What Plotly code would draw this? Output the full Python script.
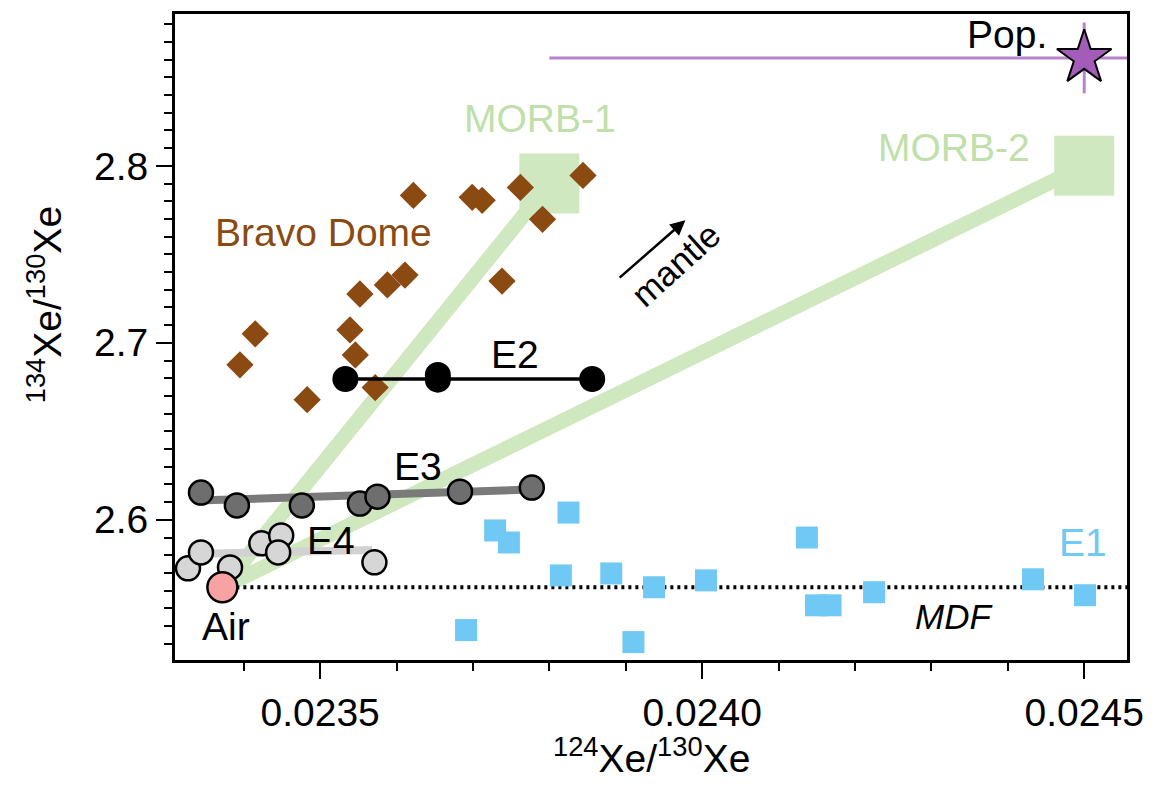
import plotly.graph_objects as go

# ---------------- data ----------------
bravo_x = [0.023622, 0.023699, 0.023712, 0.023762, 0.023844, 0.023791, 0.023415, 0.023395,
           0.023483, 0.023552, 0.023588, 0.023611, 0.023539, 0.023546, 0.023572, 0.023738]
bravo_y = [2.7833, 2.7822, 2.7805, 2.7878, 2.7946, 2.7698, 2.7051, 2.6876,
           2.6679, 2.7276, 2.7327, 2.7383, 2.7073, 2.6932, 2.6747, 2.7349]

e1_x = [0.023691, 0.023729, 0.023747, 0.023825, 0.023815, 0.023881, 0.023910, 0.023937,
        0.024005, 0.024137, 0.024149, 0.024168, 0.024225, 0.024433, 0.024501]
e1_y = [2.5377, 2.5940, 2.5872, 2.6041, 2.5686, 2.5697, 2.5309, 2.5619,
        2.5658, 2.5900, 2.5517, 2.5517, 2.5591, 2.5664, 2.5574]

e2_x = [0.023533, 0.023654, 0.023654, 0.023856]
e2_y = [2.6796, 2.6818, 2.6792, 2.6796]
e2_fit_x = [0.023533, 0.023856]
e2_fit_y = [2.6796, 2.6796]

e3_x = [0.023344, 0.023391, 0.023476, 0.023552, 0.023575, 0.023683, 0.023777]
e3_y = [2.6154, 2.6081, 2.6081, 2.6092, 2.6131, 2.6159, 2.6182]
e3_fit_x = [0.023350, 0.023777]
e3_fit_y = [2.6110, 2.6171]

e4_x = [0.023327, 0.023344, 0.023382, 0.023423, 0.023449, 0.023445, 0.023571]
e4_y = [2.5726, 2.5816, 2.5731, 2.5867, 2.5912, 2.5816, 2.5760]
e4_fit_x = [0.023360, 0.023568]
e4_fit_y = [2.5810, 2.5830]

air_x, air_y = 0.023372, 2.5619
morb1_x, morb1_y = 0.02380, 2.790
morb2_x, morb2_y = 0.02450, 2.800
pop_x, pop_y = 0.02450, 2.861
pop_err_minus, pop_err_plus = 0.0007, 0.0003
pop_err_y = 0.02

x_range = [0.023310, 0.024556]
y_range = [2.5208, 2.8858]

# ---------------- style ----------------
FONT = "Liberation Sans, Arial, Helvetica, sans-serif"
GREEN = "#cfe8bf"
GREEN_TXT = "#bfe0aa"
BROWN = "#8b4a12"
BLUE = "#70c8f4"
PURPLE = "#a35db8"
PURPLE_LINE = "#b784cb"
FS = 39

fig = go.Figure()

# MORB mixing lines
for mx, my in [(morb1_x, morb1_y), (morb2_x, morb2_y)]:
    fig.add_trace(go.Scatter(x=[air_x, mx], y=[air_y, my], mode="lines",
                             line=dict(color=GREEN, width=15), hoverinfo="skip"))
fig.add_trace(go.Scatter(x=[morb1_x, morb2_x], y=[morb1_y, morb2_y], mode="markers",
                         marker=dict(symbol="square", size=60, color=GREEN), hoverinfo="skip"))

# MDF line
fig.add_trace(go.Scatter(x=[air_x, x_range[1]], y=[air_y, air_y], mode="lines",
                         line=dict(color="black", width=4, dash="3px,4px")))

# E3 / E4 fit lines
fig.add_trace(go.Scatter(x=e3_fit_x, y=e3_fit_y, mode="lines",
                         line=dict(color="#7a7a7a", width=8)))
fig.add_trace(go.Scatter(x=e4_fit_x, y=e4_fit_y, mode="lines",
                         line=dict(color="#d2d2d2", width=8)))

# Pop. star with error bars
fig.add_trace(go.Scatter(x=[pop_x], y=[pop_y], mode="markers",
                         error_x=dict(type="data", symmetric=False, array=[pop_err_plus],
                                      arrayminus=[pop_err_minus], color=PURPLE_LINE,
                                      thickness=3, width=0),
                         error_y=dict(type="data", array=[pop_err_y], color=PURPLE_LINE,
                                      thickness=3, width=0),
                         marker=dict(symbol="star", size=41, color=PURPLE,
                                     line=dict(color="black", width=2))))

# E1 squares
fig.add_trace(go.Scatter(x=e1_x, y=e1_y, mode="markers",
                         marker=dict(symbol="square", size=22, color=BLUE)))

# Bravo Dome diamonds
fig.add_trace(go.Scatter(x=bravo_x, y=bravo_y, mode="markers",
                         marker=dict(symbol="diamond", size=21, color=BROWN)))

# E2
fig.add_trace(go.Scatter(x=e2_fit_x, y=e2_fit_y, mode="lines",
                         line=dict(color="black", width=3.5)))
fig.add_trace(go.Scatter(x=e2_x, y=e2_y, mode="markers",
                         marker=dict(size=26, color="black")))

# E3 circles
fig.add_trace(go.Scatter(x=e3_x, y=e3_y, mode="markers",
                         marker=dict(size=24, color="#6e6e6e", line=dict(color="black", width=2.5))))
# E4 circles
fig.add_trace(go.Scatter(x=e4_x, y=e4_y, mode="markers",
                         marker=dict(size=24, color="#d6d6d6", line=dict(color="black", width=2.5))))
# Air
fig.add_trace(go.Scatter(x=[air_x], y=[air_y], mode="markers",
                         marker=dict(size=30, color="#f7a3a3", line=dict(color="black", width=2.5))))

# ---------------- labels ----------------
labels = [
    ("Bravo Dome", 0.023504, 2.7624, BROWN, False),
    ("MORB-1", 0.023788, 2.8267, GREEN_TXT, False),
    ("MORB-2", 0.024330, 2.8104, GREEN_TXT, False),
    ("Pop.", 0.024399, 2.8745, "black", False),
    ("E2", 0.023755, 2.6933, "black", False),
    ("E3", 0.023628, 2.6303, "black", False),
    ("E4", 0.023514, 2.5883, "black", False),
    ("Air", 0.023377, 2.5400, "black", False),
    ("E1", 0.024499, 2.5873, BLUE, False),
    ("MDF", 0.024329, 2.5451, "black", True),
]
for txt, lx, ly, col, ital in labels:
    fig.add_annotation(x=lx, y=ly, text=f"<i>{txt}</i>" if ital else txt, showarrow=False,
                       font=dict(family=FONT, size=FS if not ital else 35, color=col),
                       xanchor="center", yanchor="middle")

# mantle arrow
fig.add_annotation(x=0.023978, y=2.7693, ax=0.023890, ay=2.7361, axref="x", ayref="y",
                   xref="x", yref="y", text="", showarrow=True, arrowhead=2,
                   arrowsize=1.2, arrowwidth=2.5, arrowcolor="black")
fig.add_annotation(x=0.023965, y=2.7443, text="mantle", showarrow=False, textangle=-42,
                   font=dict(family=FONT, size=35, color="black"))

# axis titles
fig.add_annotation(xref="paper", yref="paper", x=0.5, y=-0.148, yanchor="middle",
                   text="<sup>124</sup>Xe/<sup>130</sup>Xe", showarrow=False,
                   font=dict(family=FONT, size=FS, color="black"))
fig.add_annotation(xref="paper", yref="paper", x=-0.137, y=0.55, xanchor="center",
                   text="<sup>134</sup>Xe/<sup>130</sup>Xe", showarrow=False, textangle=-90,
                   font=dict(family=FONT, size=FS, color="black"))

fig.update_layout(
    width=1147, height=779,
    margin=dict(l=167, r=28, t=3, b=127),
    paper_bgcolor="white", plot_bgcolor="white",
    showlegend=False,
    font=dict(family=FONT, size=FS, color="black"),
)
fig.update_xaxes(range=x_range, tickvals=[0.0235, 0.0240, 0.0245], tickformat=".4f",
                 ticks="outside", ticklen=16, tickwidth=2, tickcolor="black",
                 minor=dict(dtick=0.0001, tick0=0.0235, ticks="outside", ticklen=8,
                            tickwidth=2, tickcolor="black"),
                 showline=True, linewidth=3, linecolor="black", mirror=True,
                 showgrid=False, zeroline=False, tickfont=dict(size=FS))
fig.update_yaxes(range=y_range, tickvals=[2.6, 2.7, 2.8], tickformat=".1f",
                 ticks="outside", ticklen=16, tickwidth=2, tickcolor="black",
                 minor=dict(dtick=0.01, tick0=2.6, ticks="outside", ticklen=8,
                            tickwidth=2, tickcolor="black"),
                 showline=True, linewidth=3, linecolor="black", mirror=True,
                 showgrid=False, zeroline=False, tickfont=dict(size=FS))

fig.write_html("out.html")
